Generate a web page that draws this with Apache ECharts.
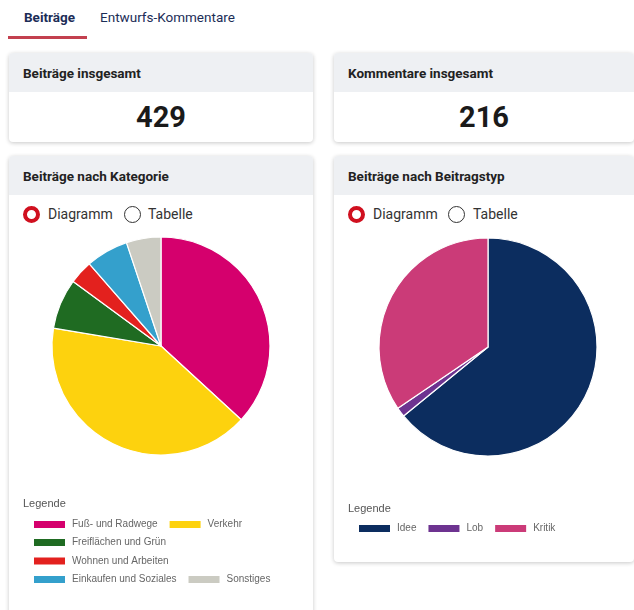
<!DOCTYPE html>
<html>
<head>
<meta charset="utf-8">
<script src="https://cdn.jsdelivr.net/npm/echarts@6/dist/echarts.min.js"></script>
<style>
  html, body { margin: 0; padding: 0; background: #fff; }
  body { width: 634px; height: 610px; position: relative; overflow: hidden; font-family: Roboto, "Noto Sans", sans-serif; color: #222; }
  .tab { position: absolute; top: 9px; font-size: 13.5px; color: #1c2d57; }
  .tab.active { font-weight: 700; }
  .underline { position: absolute; left: 8px; top: 36px; width: 79px; height: 3px; background: #c3404f; }
  .card { position: absolute; background: #fff; border-radius: 4px; box-shadow: 0 1px 4px rgba(0,0,0,0.22); overflow: hidden; }
  .card .head { background: #eef0f3; height: 39px; line-height: 40px; padding-left: 14px; font-weight: 700; font-size: 13.5px; color: #222; }
  .num { text-align: center; font-weight: 700; font-size: 29px; line-height: 50px; color: #1a1a1a; }
  .radios { position: absolute; top: 50px; left: 14px; font-size: 14px; color: #333; }
  .radio { position: absolute; top: 0; width: 17px; height: 17px; box-sizing: border-box; border-radius: 50%; }
  .radio.on { border: 4px solid #d0101f; }
  .radio.off { border: 1.5px solid #333; }
  .rlabel { position: absolute; top: 0; line-height: 17px; white-space: nowrap; }
  .chart { position: absolute; }
</style>
</head>
<body>
<div class="tab active" style="left:24px">Beiträge</div>
<div class="tab" style="left:100px">Entwurfs-Kommentare</div>
<div class="underline"></div>

<div class="card" style="left:9px; top:53px; width:304px; height:89px;">
  <div class="head">Beiträge insgesamt</div>
  <div class="num" id="total1"></div>
</div>
<div class="card" style="left:334px; top:53px; width:300px; height:89px;">
  <div class="head">Kommentare insgesamt</div>
  <div class="num" id="total2"></div>
</div>

<div class="card" style="left:9px; top:156px; width:304px; height:470px;">
  <div class="head">Beiträge nach Kategorie</div>
  <div class="radios">
    <div class="radio on" style="left:0"></div><div class="rlabel" style="left:25px">Diagramm</div>
    <div class="radio off" style="left:101px"></div><div class="rlabel" style="left:125px">Tabelle</div>
  </div>
</div>
<div class="card" style="left:334px; top:156px; width:300px; height:406px;">
  <div class="head">Beiträge nach Beitragstyp</div>
  <div class="radios">
    <div class="radio on" style="left:0"></div><div class="rlabel" style="left:25px">Diagramm</div>
    <div class="radio off" style="left:100px"></div><div class="rlabel" style="left:125px">Tabelle</div>
  </div>
</div>

<div class="chart" id="pie1" style="left:9px; top:230px; width:304px; height:380px;"></div>
<div class="chart" id="pie2" style="left:334px; top:230px; width:300px; height:330px;"></div>

<script>
// Kennzahlen
var totalBeitraege = 429;
var totalKommentare = 216;

// Beiträge nach Kategorie
var kategorien = ['Fuß- und Radwege', 'Verkehr', 'Freiflächen und Grün', 'Wohnen und Arbeiten', 'Einkaufen und Soziales', 'Sonstiges'];
var kategorieWerte = [158, 175, 32, 15, 27, 22];
var kategorieFarben = ['#d5006d', '#fdd20e', '#1f6b22', '#e3211e', '#34a0cc', '#cbcbc2'];

// Beiträge nach Beitragstyp
var typen = ['Idee', 'Lob', 'Kritik'];
var typWerte = [275, 6, 148];
var typFarben = ['#0c2d5f', '#6d3390', '#cb3b78'];

document.getElementById('total1').textContent = totalBeitraege;
document.getElementById('total2').textContent = totalKommentare;

function pieData(names, values, colors) {
  return names.map(function (n, i) {
    return { name: n, value: values[i], itemStyle: { color: colors[i] } };
  });
}

function legendRow(names, left, top) {
  return {
    data: names, left: left, top: top, orient: 'horizontal',
    padding: 0, itemWidth: 33, itemHeight: 9, itemGap: 10,
    icon: 'rect', selectedMode: false,
    textStyle: { fontSize: 10, color: '#666', fontFamily: 'Liberation Sans, Arial, sans-serif', padding: [0, 0, 0, 1] }
  };
}

var chart1 = echarts.init(document.getElementById('pie1'));
chart1.setOption({
  animation: false,
  title: { text: 'Legende', left: 14, top: 268, padding: 0,
    textStyle: { fontSize: 11, fontWeight: 'normal', color: '#555', fontFamily: 'Liberation Sans, Arial, sans-serif' } },
  legend: [
    legendRow([kategorien[0], kategorien[1]], 23, 289),
    legendRow([kategorien[2]], 23, 307),
    legendRow([kategorien[3]], 23, 325.5),
    legendRow([kategorien[4], kategorien[5]], 23, 344)
  ],
  series: [{
    type: 'pie',
    center: [152, 116],
    radius: 109,
    startAngle: 90,
    label: { show: false },
    labelLine: { show: false },
    emphasis: { disabled: true },
    itemStyle: { borderColor: '#fff', borderWidth: 1.2 },
    data: pieData(kategorien, kategorieWerte, kategorieFarben)
  }]
});

var chart2 = echarts.init(document.getElementById('pie2'));
chart2.setOption({
  animation: false,
  title: { text: 'Legende', left: 14, top: 273, padding: 0,
    textStyle: { fontSize: 11, fontWeight: 'normal', color: '#555', fontFamily: 'Liberation Sans, Arial, sans-serif' } },
  legend: [legendRow(typen, 23, 293)],
  series: [{
    type: 'pie',
    center: [154, 117],
    radius: 109,
    startAngle: 90,
    label: { show: false },
    labelLine: { show: false },
    emphasis: { disabled: true },
    itemStyle: { borderColor: '#fff', borderWidth: 1.2 },
    data: pieData(typen, typWerte, typFarben)
  }]
});
</script>
</body>
</html>
